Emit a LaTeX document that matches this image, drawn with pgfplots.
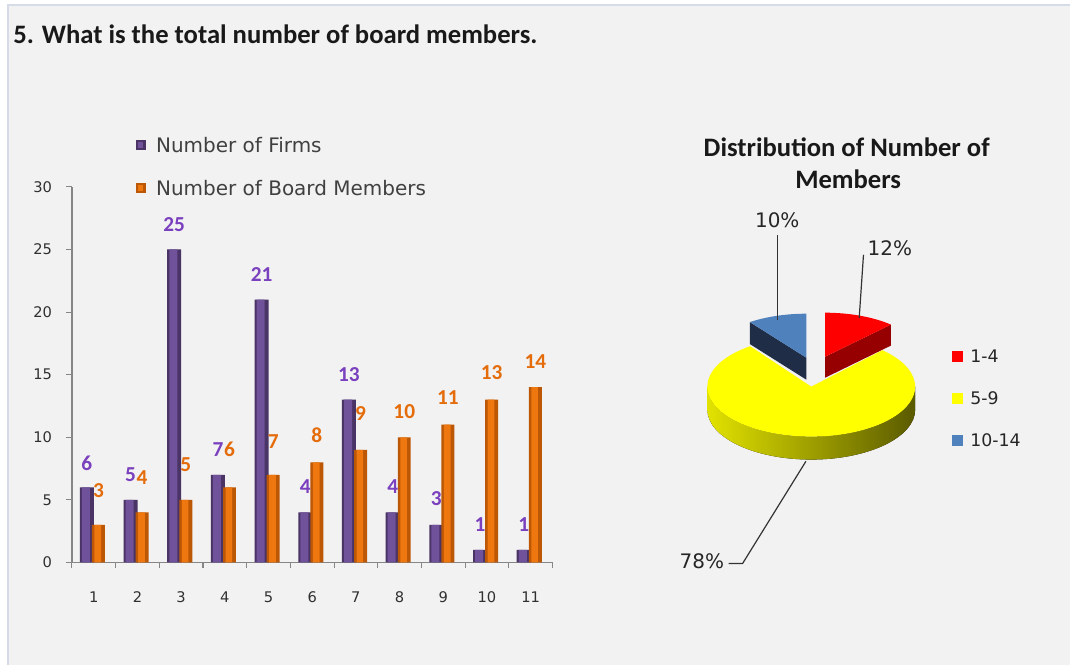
\documentclass[border=0pt]{standalone}
\usepackage{pgfplots}
\pgfplotsset{compat=1.18}
\usepackage{pgfplotstable}
\usepackage{fontspec}
\setmainfont{DejaVu Sans}
\newfontfamily\calib{Carlito}
\definecolor{bg}{HTML}{F2F2F2}
\definecolor{bord}{HTML}{D5DCE8}
\definecolor{axgray}{HTML}{868686}
\definecolor{ticktext}{HTML}{303030}
\definecolor{legtext}{HTML}{404040}
\definecolor{pdk}{HTML}{4A3466}
\definecolor{pmid}{HTML}{6F529A}
\definecolor{odk}{HTML}{BC5706}
\definecolor{omid}{HTML}{EE780F}
\definecolor{plab}{HTML}{7A40BE}
\definecolor{olab}{HTML}{E46C0A}
\definecolor{ytop}{HTML}{FFFF00}
\definecolor{yside1}{HTML}{E2E200}
\definecolor{yside2}{HTML}{B4B400}
\definecolor{yside3}{HTML}{5A5A00}
\definecolor{rtop}{HTML}{FF0000}
\definecolor{rcut}{HTML}{960000}
\definecolor{btop}{HTML}{4F81BD}
\definecolor{bcut}{HTML}{1F2D46}
\newcommand{\pxc}[2]{({(#1)*0.75pt},{(666-(#2))*0.75pt})}
\pgfplotsset{/pgf/number format/assume math mode=true}

\pgfplotstableread{
cat firms board offf offb
1 6 3 24 34
2 5 4 25 35
3 25 5 25 35
4 7 6 25 38
5 21 7 25 33
6 4 8 26 27
7 13 9 25 36
8 4 10 26 26
9 3 11 26 27
10 1 13 25 27
11 1 14 25 26
}\datatable

% pie shares (%)
\def\pA{12}\def\pB{78}\def\pC{10}
\pgfmathsetmacro{\aA}{90}
\pgfmathsetmacro{\aB}{90-3.6*\pA}
\pgfmathsetmacro{\aC}{\aB-3.6*\pB+360}
\pgfmathsetmacro{\aBe}{\aB+360}

\begin{document}
\begin{tikzpicture}
\fill[white] (0,0) rectangle \pxc{1071}{0};
\fill[bg] \pxc{8}{666} rectangle \pxc{1071}{5};
\draw[bord, line width=1.5pt] \pxc{8}{666} -- \pxc{8}{5} -- \pxc{1071}{5};

\node[anchor=base west, inner sep=0pt, font=\calib\bfseries\fontsize{20}{24}\selectfont, text=black!90] at \pxc{13}{43.5} {5. What is the total number of board members.};

\begin{axis}[
  at={(54pt,77.25pt)}, anchor=south west, scale only axis,
  width=360.75pt, height=282pt,
  xmin=0.5, xmax=11.5, ymin=0, ymax=30,
  axis lines*=left,
  axis line style={draw=axgray, line width=1pt},
  tick style={draw=axgray, line width=0.8pt},
  tick align=outside, major tick length=4.5pt,
  xtick={0.5,1.5,...,11.5},
  xticklabels={1,2,3,4,5,6,7,8,9,10,11,},
  ytick={0,5,...,30},
  tick label style={font=\fontsize{11}{13}\selectfont, text=ticktext},
  xticklabel style={xshift=16.4pt, yshift=-14pt},
  yticklabel style={xshift=-7pt},
  clip=false,
  legend style={at={(0.133,1.1346)}, anchor=north west, draw=none, fill=none,
    inner sep=0pt, row sep=19.35pt,
    font=\fontsize{15}{18}\selectfont, text=legtext,
    nodes={inner sep=1pt, text height=10.9pt, text depth=0pt}},
  legend cell align=left,
  nodes near coords={\pgfmathprintnumber{\pgfplotspointmeta}},
]
\addplot[ybar, bar width=10.5pt, bar shift=-5.2pt, draw=none, fill=pdk,
  visualization depends on={\thisrow{offf} \as \myoff},
  every node near coord/.append style={anchor=center, xshift=-5.2pt, yshift=\myoff*0.75pt,
    font=\calib\bfseries\fontsize{16}{18}\selectfont, text=plab},
  legend image code/.code={\fill[pdk] (0pt,-3.75pt) rectangle (7.5pt,3.75pt); \fill[pmid] (1.5pt,-2.25pt) rectangle (5.5pt,2.25pt); \path (14pt,0pt);}
] table[x=cat, y=firms] \datatable;
\addlegendentry{Number of Firms}
\addplot[ybar, bar width=9.75pt, bar shift=3.5pt, draw=none, fill=odk,
  visualization depends on={\thisrow{offb} \as \myoff},
  every node near coord/.append style={anchor=center, xshift=3.5pt, yshift=\myoff*0.75pt,
    font=\calib\bfseries\fontsize{16}{18}\selectfont, text=olab},
  legend image code/.code={\fill[odk] (0pt,-3.75pt) rectangle (7.5pt,3.75pt); \fill[omid] (1.5pt,-2.25pt) rectangle (5.5pt,2.25pt); \path (14pt,0pt);}
] table[x=cat, y=board] \datatable;
\addlegendentry{Number of Board Members}
% lighter centre strip of each bar (cylinder look)
\addplot[ybar, bar width=6pt, bar shift=-5.9pt, draw=none, fill=pmid, nodes near coords={}, forget plot] table[x=cat, y=firms] \datatable;
\addplot[ybar, bar width=5pt, bar shift=3.0pt, draw=none, fill=omid, nodes near coords={}, forget plot] table[x=cat, y=board] \datatable;
\end{axis}

% pie title
\node[anchor=base, inner sep=0pt, font=\calib\bfseries\fontsize{20}{24}\selectfont, text=black!90] at \pxc{847.5}{156.7} {Distribution of Number of};
\node[anchor=base, inner sep=0pt, font=\calib\bfseries\fontsize{20}{24}\selectfont, text=black!90] at \pxc{849}{188.3} {Members};

\begin{axis}[
  at={(609pt,209.25pt)}, anchor=origin, hide axis,
  x=0.75pt, y=0.75pt, xmin=-140, xmax=230, ymin=-200, ymax=250,
  enlargelimits=false, clip=false,
  legend style={at={(0.7595,0.530)}, anchor=north west, draw=none, fill=none,
    inner sep=0pt, row sep=20pt,
    font=\fontsize{13}{15}\selectfont, text=black!85,
    nodes={inner sep=1pt, text height=9.5pt, text depth=0pt}},
  legend cell align=left,
]
\addlegendimage{legend image code/.code={\fill[rtop] (0pt,-3.75pt) rectangle (7.5pt,3.75pt); \path (12pt,0pt);}}
\addlegendentry{1-4}
\addlegendimage{legend image code/.code={\fill[ytop] (0pt,-3.75pt) rectangle (7.5pt,3.75pt); \path (12pt,0pt);}}
\addlegendentry{5-9}
\addlegendimage{legend image code/.code={\fill[btop] (0pt,-3.75pt) rectangle (7.5pt,3.75pt); \path (12pt,0pt);}}
\addlegendentry{10-14}
% exploded slice 1-4 (red)
\fill[rcut] (14,30) -- ({14+96*cos(\aB)},{30+44*sin(\aB)}) -- ({14+96*cos(\aB)},{9+44*sin(\aB)}) -- (14,9) -- cycle;
\fill[rtop] (14,30) -- (14,74) arc[start angle=90, end angle=\aB, x radius=72pt, y radius=33pt] -- cycle;
% exploded slice 10-14 (blue)
\fill[bcut] (-5,29) -- ({-5+96*cos(\aC)},{29+44*sin(\aC)}) -- ({-5+96*cos(\aC)},{7+44*sin(\aC)}) -- (-5,7) -- cycle;
\fill[btop] (-5,29) -- ({-5+96*cos(\aC)},{29+44*sin(\aC)}) arc[start angle=\aC, end angle=90, x radius=72pt, y radius=33pt] -- cycle;
% slice 5-9 (yellow): side then top
\fill[left color=yside1, middle color=yside2, right color=yside3] (-104,0) arc[start angle=180, end angle=360, x radius=78pt, y radius=37.5pt] -- ++(0pt,-17.25pt) arc[start angle=0, end angle=-180, x radius=78pt, y radius=37.5pt] -- cycle;
\fill[ytop] (0,0) -- ({104*cos(\aC)},{50*sin(\aC)}) arc[start angle=\aC, end angle=\aBe, x radius=78pt, y radius=37.5pt] -- cycle;
% leader lines and labels
\draw[black!80, line width=0.9pt] (-34,152) -- (-34,67);
\draw[black!80, line width=0.9pt] (52.3,132) -- (48,68.7);
\draw[black!80, line width=0.9pt] (-82.7,-177) -- (-68.7,-177) -- (-5.3,-74.7);
\node[font=\fontsize{15}{18}\selectfont, text=black!85] at (-34,167) {10\%};
\node[font=\fontsize{15}{18}\selectfont, text=black!85] at (78.7,139) {12\%};
\node[font=\fontsize{15}{18}\selectfont, text=black!85] at (-109.5,-175) {78\%};
\end{axis}
\end{tikzpicture}
\end{document}
